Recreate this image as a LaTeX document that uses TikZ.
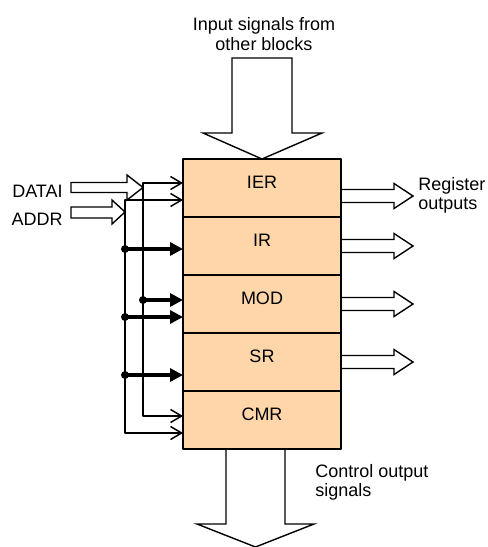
\documentclass[tikz,border=0pt]{standalone}
\usepackage{fontspec}
\setmainfont{Liberation Sans}
\usetikzlibrary{arrows.meta, positioning, calc}
\definecolor{regpeach}{RGB}{254, 214, 170}
\tikzset{every node/.style={font=\fontsize{9}{9.6}\selectfont}, every path/.style={line cap=round, line join=round}}

\begin{document}
\begin{tikzpicture}[
    x=0.5pt, y=-0.5pt,
    reg/.style={draw, fill=regpeach, line width=0.7pt, minimum width=79pt, minimum height=29pt,
        inner sep=0pt, outer sep=0pt, text height=6.5pt, text depth=6.5pt},
    hollow/.style={draw, line width=0.7pt, line join=miter},
    wirearrow/.style={line width=0.75pt, -{Straight Barb[length=5.5pt, width=6.5pt]}},
    busarrow/.style={line width=2pt, -{Triangle[length=6.5pt, width=6.5pt]}}
]
    \useasboundingbox (0,0) rectangle (488,547);

    % register stack
    \node [reg] (ier) at (262,188) {IER};
    \node [reg, below=0pt of ier] (ir) {IR};
    \node [reg, below=0pt of ir] (mod) {MOD};
    \node [reg, below=0pt of mod] (sr) {SR};
    \node [reg, below=0pt of sr] (cmr) {CMR};

    % texts
    \node [align=center] (insig) at (264,34) {Input signals from\\other blocks};
    \node [align=left, anchor=west, inner sep=0pt] (regout) at (418,195) {Register\\outputs};
    \node [align=left, anchor=west, inner sep=0pt] (ctrlout) at (315,482) {Control output\\signals};
    \node [anchor=east, inner sep=0pt] (datai) at (63,191) {DATAI};
    \node [anchor=east, inner sep=0pt] (addr) at (63,219) {ADDR};

    % wide arrows
    \draw [hollow] (232,58) -- (292,58) -- (292,133) -- (322,133) -- (ier.north) -- (203,133) -- (232,133) -- cycle;
    \draw [hollow] (226,449) -- (226,524) -- (197,524) -- (255.5,547) -- (314,524) -- (285,524) -- (285,449);
    \foreach \reg/\dy in {ier/8, ir/0, mod/0, sr/0}
        \draw [hollow] ($(\reg.east)+(0,\dy-6.5)$) -- ++(53,0) -- ++(0,-6) -- ++(19,12.5)
            -- ++(-19,12.5) -- ++(0,-6) -- ++(-53,0);
    \draw [hollow] (71,182.5) -- (127,182.5) -- (127,175) -- (143,187.5) -- (127,200) -- (127,192.5) -- (71,192.5) -- cycle;
    \draw [hollow] (71,207) -- (112,207) -- (112,200) -- (125,212) -- (112,224) -- (112,218) -- (71,218) -- cycle;

    % input wiring
    \coordinate (busa) at (143,183);
    \coordinate (busaend) at (143,416);
    \coordinate (busb) at (125,200);
    \coordinate (busbend) at (125,433);
    \draw [wirearrow] (busa) -- (busa -| ier.west);
    \draw [wirearrow] (busb) -- (busb -| ier.west);
    \draw [wirearrow] (busa) -- (busaend) -- (busaend -| cmr.west);
    \draw [wirearrow] (busb) -- (busbend) -- (busbend -| cmr.west);
    \foreach \xx/\yy/\reg in {125/249/ir, 143/300/mod, 125/317/mod, 125/375/sr} {
        \fill (\xx,\yy) circle (2pt);
        \draw [busarrow] (\xx,\yy) -- (\reg.west |- \xx,\yy);
    }
\end{tikzpicture}
\end{document}
